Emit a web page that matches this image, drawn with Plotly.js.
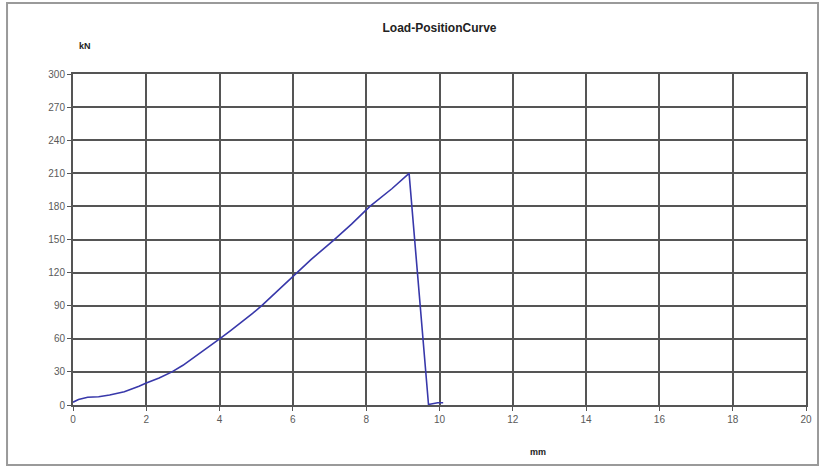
<!DOCTYPE html>
<html>
<head>
<meta charset="utf-8">
<script src="https://cdn.plot.ly/plotly-3.0.1.min.js"></script>
<style>html,body{margin:0;padding:0;background:#fff;}#chart{width:819px;height:468px;}</style>
</head>
<body>
<div id="chart"></div>
<script>
const positionMm = [0, 0.15, 0.4, 0.7, 1.0, 1.4, 1.8, 2.0, 2.35, 2.7, 3.0, 3.3, 3.6, 4.0, 4.3, 4.6, 4.9, 5.15, 5.5, 6.05, 6.5, 7.1, 7.6, 8.1, 8.7, 9.17, 9.7, 9.95, 10.1];
const loadKN     = [2.5, 5, 7, 7.5, 9, 12, 17, 20, 24.5, 30, 36, 43, 50.5, 60, 67.5, 75, 83, 90, 101, 118.5, 132, 149, 164, 180, 196, 210, 0.5, 2, 2];
const xTicks = [0, 2, 4, 6, 8, 10, 12, 14, 16, 18, 20];
const yTicks = [0, 30, 60, 90, 120, 150, 180, 210, 240, 270, 300];

const trace = {
  x: positionMm, y: loadKN, type: 'scatter', mode: 'lines',
  line: {color: '#3838aa', width: 1.6}, hoverinfo: 'none'
};

const axisCommon = {
  showgrid: true, gridcolor: '#555555', gridwidth: 2,
  showline: true, linecolor: '#555555', linewidth: 2, mirror: true,
  ticks: 'outside', ticklen: 4, tickcolor: '#555555', tickwidth: 1,
  zeroline: false,
  tickfont: {family: 'Liberation Sans, Arial, sans-serif', size: 10, color: '#5a5a5a'}
};

const layout = {
  width: 819, height: 468,
  margin: {l: 73, r: 13, t: 74, b: 63},
  paper_bgcolor: '#ffffff', plot_bgcolor: '#ffffff',
  showlegend: false,
  title: {text: '<b>Load-PositionCurve</b>', x: 0.5, xref: 'paper', y: 1 - 28/468, yref: 'container', yanchor: 'middle',
          font: {family: 'Liberation Sans, Arial, sans-serif', size: 12, color: '#222'}},
  xaxis: Object.assign({}, axisCommon, {range: [0, 20], tickvals: xTicks, ticktext: xTicks.map(String)}),
  yaxis: Object.assign({}, axisCommon, {range: [0, 300], tickvals: yTicks, ticktext: yTicks.map(String)}),
  annotations: [
    {text: '<b>kN</b>', xref: 'paper', yref: 'paper', x: 0.016, y: 1.085, showarrow: false, xanchor: 'center', yanchor: 'middle',
     font: {family: 'Liberation Sans, Arial, sans-serif', size: 9, color: '#222'}},
    {text: '<b>mm</b>', xref: 'paper', yref: 'paper', x: 0.634, y: -0.142, showarrow: false, xanchor: 'center', yanchor: 'middle',
     font: {family: 'Liberation Sans, Arial, sans-serif', size: 9, color: '#222'}}
  ],
  shapes: [
    {type: 'rect', xref: 'paper', yref: 'paper', x0: -0.09, x1: 1.0164, y0: -0.181, y1: 1.2145,
     line: {color: '#9a9a9a', width: 2}, fillcolor: 'rgba(0,0,0,0)', layer: 'below'}
  ]
};

Plotly.newPlot('chart', [trace], layout, {staticPlot: true, displayModeBar: false});
</script>
</body>
</html>
